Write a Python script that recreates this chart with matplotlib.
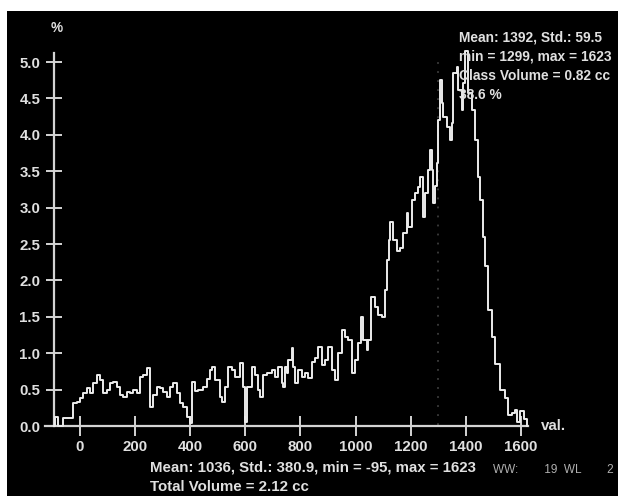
import matplotlib
matplotlib.use("Agg")
import matplotlib.pyplot as plt
from matplotlib.patches import Rectangle

# ---- data (value units, percent) ----
vals = [-95, -92, -84, -80, -65, -63, -29, -25, -11, 0, 11, 25, 36, 47, 62, 73, 83, 98,
        109, 120, 134, 145, 156, 171, 181, 192, 207, 218, 229, 243, 254, 265, 279, 290,
        301, 316, 327, 338, 352, 363, 374, 388, 399, 405, 418, 430, 448, 460, 472, 478,
        490, 508, 514, 526, 538, 551, 563, 581, 590, 599, 607, 623, 635, 647, 653, 665,
        678, 696, 708, 720, 732, 737, 744, 751, 756, 770, 773, 780, 791, 806, 817, 828,
        842, 853, 864, 878, 889, 900, 915, 926, 936, 951, 962, 973, 987, 998, 1009, 1020,
        1027, 1042, 1045, 1056, 1071, 1082, 1096, 1107, 1114, 1122, 1125, 1136, 1151,
        1162, 1172, 1187, 1191, 1205, 1216, 1227, 1234, 1245, 1252, 1263, 1270, 1278,
        1281, 1289, 1296, 1299, 1307, 1314, 1318, 1332, 1343, 1350, 1354, 1368, 1372,
        1387, 1390, 1397, 1408, 1423, 1434, 1445, 1452, 1463, 1470, 1481, 1495, 1506,
        1525, 1543, 1554, 1568, 1579, 1586, 1597, 1610, 1623]
pct = [0.0, 0.12, 0.12, 0.0, 0.0, 0.11, 0.11, 0.32, 0.33, 0.38, 0.45, 0.52, 0.45, 0.59,
       0.70, 0.63, 0.45, 0.49, 0.59, 0.60, 0.54, 0.43, 0.40, 0.47, 0.45, 0.49, 0.45, 0.67,
       0.70, 0.80, 0.26, 0.43, 0.54, 0.52, 0.47, 0.40, 0.54, 0.59, 0.45, 0.32, 0.26, 0.12,
       0.04, 0.60, 0.48, 0.49, 0.54, 0.65, 0.77, 0.81, 0.63, 0.40, 0.33, 0.54, 0.81, 0.77,
       0.67, 0.87, 0.54, 0.06, 0.54, 0.81, 0.70, 0.49, 0.40, 0.70, 0.73, 0.77, 0.67, 0.81,
       0.59, 0.54, 0.81, 0.73, 0.91, 1.07, 0.81, 0.59, 0.77, 0.67, 0.73, 0.66, 0.88, 0.93,
       1.09, 0.84, 0.91, 1.09, 0.77, 0.63, 1.00, 1.32, 1.22, 1.18, 0.73, 0.91, 1.14, 1.50,
       1.18, 1.04, 1.18, 1.77, 1.63, 1.52, 1.50, 1.87, 2.28, 2.55, 2.80, 2.55, 2.40, 2.45,
       2.65, 2.93, 2.73, 3.10, 3.20, 3.28, 3.42, 2.87, 3.20, 3.52, 3.79, 3.52, 3.06, 3.30,
       3.61, 4.20, 4.75, 4.44, 4.24, 4.11, 3.93, 4.16, 4.85, 4.93, 4.62, 4.34, 4.71, 5.15,
       4.57, 4.34, 3.93, 3.42, 3.10, 2.60, 2.20, 1.59, 1.22, 0.85, 0.49, 0.38, 0.15, 0.18,
       0.22, 0.05, 0.20, 0.10, 0.0]

y_ticks = [0.0, 0.5, 1.0, 1.5, 2.0, 2.5, 3.0, 3.5, 4.0, 4.5, 5.0]
x_ticks = [0, 200, 400, 600, 800, 1000, 1200, 1400, 1600]
class_min = 1299

total_stats = "Mean: 1036, Std.: 380.9, min = -95, max = 1623"
total_volume = "Total Volume = 2.12 cc"
class_lines = ["Mean: 1392, Std.: 59.5", "min = 1299, max = 1623",
               "Class Volume = 0.82 cc", "38.6 %"]
window_text = "WW:        19  WL        2"

W, H = 618, 496
fig = plt.figure(figsize=(W / 100, H / 100), dpi=100)
fig.patch.set_facecolor("white")
fig.patches.append(Rectangle((7 / W, 0), 1 - 7 / W, 1 - 11 / H, transform=fig.transFigure,
                             facecolor="black", edgecolor="none", zorder=-10))

ax = fig.add_axes([0, 0, 1, 1])
ax.set_zorder(5)
ax.set_facecolor("none")
ax.patch.set_alpha(0)
# pixel mapping: x_px = 80 + 0.2755*val ; y_px(from top) = 426 - 72.8*pct
sx, x0 = 0.2755, 80
sy, y0 = 72.8, 426
ax.set_xlim(-x0 / sx, (W - x0) / sx)
ax.set_ylim((y0 - H) / sy, y0 / sy)

axcol = "#d4d4d4"
txtcol = "#e0e0e0"
fs = 10.8
fnt = dict(family="Liberation Sans", weight="bold")

for s in ["top", "right"]:
    ax.spines[s].set_visible(False)
ax.spines["left"].set_position(("data", -95))
ax.spines["bottom"].set_position(("data", 0))
ax.spines["left"].set_bounds(0, 5.12)
ax.spines["bottom"].set_bounds(-127, 1626)
for s in ["left", "bottom"]:
    ax.spines[s].set_color(axcol)
    ax.spines[s].set_linewidth(1.6)

ax.set_yticks(y_ticks)
ax.set_yticklabels([f"{v:.1f}" for v in y_ticks], color=txtcol, fontsize=fs, **fnt)
ax.set_xticks(x_ticks)
ax.set_xticklabels([str(v) for v in x_ticks], color=txtcol, fontsize=fs, **fnt)
ax.tick_params(axis="y", direction="inout", length=11.5, width=1.4, color=axcol, pad=4)
ax.tick_params(axis="x", direction="inout", length=14, width=1.4, color=axcol, pad=3)

# dotted class threshold line
ax.vlines(class_min, 0.02, 5.0, colors="#3c3c3c", linestyles=(0, (1, 4)), linewidth=1.3, zorder=1)

ax.plot(vals, pct, color="#ececec", linewidth=1.4, drawstyle="steps-post", zorder=3)

ax.text(-83, 5.47, "%", color=txtcol, fontsize=fs - 1, ha="center", va="center", **fnt)
ax.text(1673, 0.0, "val.", color=txtcol, fontsize=fs, ha="left", va="center", **fnt)

def px(xp, yp):
    return ((xp - x0) / sx, (y0 - yp) / sy)

ax.text(*px(150, 468), total_stats, color=txtcol, fontsize=fs, ha="left", va="center", **fnt)
ax.text(*px(150, 487), total_volume, color=txtcol, fontsize=fs, ha="left", va="center", **fnt)
for i, line in enumerate(class_lines):
    ax.text(*px(459, 37 + 19.3 * i), line, color=txtcol, fontsize=9.9, ha="left",
            va="center", **fnt)
ax.text(*px(493, 470), window_text, color="#b0b0b0", fontsize=8.5, ha="left", va="center",
        family="Liberation Sans")

fig.savefig("out.png", dpi=100, facecolor=fig.get_facecolor())
